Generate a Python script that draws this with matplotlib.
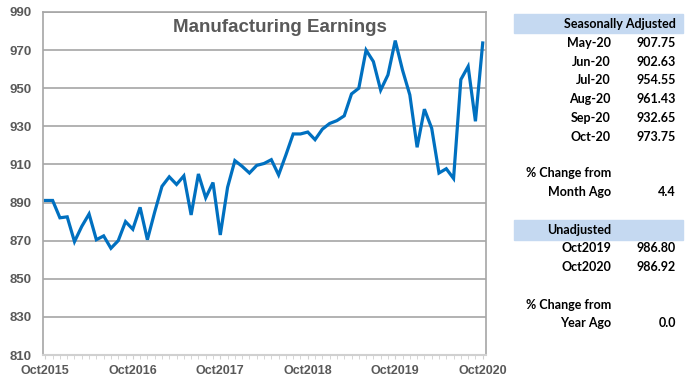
import matplotlib
matplotlib.use("Agg")
import matplotlib.pyplot as plt
from matplotlib.patches import Rectangle

# monthly earnings, Oct 2015 .. Oct 2020
earnings = [891.1, 891.1, 882.0, 882.5, 869.5, 877.5, 884.0, 870.5, 872.5, 866.0,
            870.0, 880.0, 876.0, 887.5, 870.5, 885.0, 898.5, 903.5, 899.5, 904.0,
            883.5, 905.0, 892.5, 900.5, 873.0, 898.0, 912.0, 909.0, 905.5, 909.5,
            910.5, 912.5, 904.5, 915.0, 926.0, 926.0, 927.0, 923.0, 928.5, 931.5,
            933.0, 935.5, 947.0, 950.0, 970.0, 964.0, 949.0, 957.0, 975.0, 959.5,
            946.5, 919.0, 939.0, 929.0, 905.5, 907.75, 902.63, 954.55, 961.43, 932.65,
            973.75]
xtick_pos = [0, 12, 24, 36, 48, 60]
xtick_labels = ['Oct2015', 'Oct2016', 'Oct2017', 'Oct2018', 'Oct2019', 'Oct2020']
yticks = list(range(810, 991, 20))

# side table
sa_months = ['May-20', 'Jun-20', 'Jul-20', 'Aug-20', 'Sep-20', 'Oct-20']
sa_values = ['907.75', '902.63', '954.55', '961.43', '932.65', '973.75']
month_change = '4.4'
ua_months = ['Oct2019', 'Oct2020']
ua_values = ['986.80', '986.92']
year_change = '0.0'

W, H = 688, 387
fig = plt.figure(figsize=(W / 100, H / 100), dpi=100)
ax = fig.add_axes([43 / W, (H - 355) / H, (486 - 43) / W, (355 - 12) / H])

ax.plot(range(len(earnings)), earnings, color='#0070C0', lw=2.3, solid_joinstyle='miter')

ax.set_ylim(810, 990)
ax.set_xlim(-0.32, 60.45)
ax.set_yticks(yticks)
ax.set_xticks(xtick_pos)
ax.set_xticks(range(len(earnings)), minor=True)
ax.set_xticklabels(xtick_labels)
ax.grid(axis='y', color='#a6a6a6', lw=1.2)
ax.set_axisbelow(True)

grey = '#595959'
ax.tick_params(axis='y', length=0, pad=8, labelsize=9.5, labelcolor=grey)
ax.tick_params(axis='x', which='both', direction='out', length=3, color='#d0d0d0',
               pad=4, labelsize=9, labelcolor=grey)
for lab in ax.get_xticklabels() + ax.get_yticklabels():
    lab.set_fontfamily('Liberation Sans')
    lab.set_fontweight('bold')

for side in ['left', 'right', 'top']:
    ax.spines[side].set_color('#a6a6a6')
    ax.spines[side].set_linewidth(1.2)
ax.spines['bottom'].set_color('#d0d0d0')
ax.spines['bottom'].set_linewidth(1.5)

ax.text(0.535, 0.955, 'Manufacturing Earnings', transform=ax.transAxes, ha='center', va='center',
        fontsize=13.5, fontweight='bold', color=grey, family='Liberation Sans')


# table drawn in pixel coordinates
def px(x, y):
    return x / W, 1 - y / H


def cell(x, y, s, ha='right'):
    fig.text(*px(x, y), s, ha=ha, va='center', fontsize=9, family='Lato',
             fontweight='bold', color='black')


def band(y0, y1):
    x0, yb = px(514, y1)
    fig.patches.append(Rectangle((x0, yb), (683 - 514) / W, (y1 - y0) / H,
                                 transform=fig.transFigure, color='#c5d9f1', zorder=0))


band(13.5, 33)
cell(676, 23.5, 'Seasonally Adjusted')
for i, (m, v) in enumerate(zip(sa_months, sa_values)):
    cell(611, 42.7 + i * 18.9, m)
    cell(676, 42.7 + i * 18.9, v)
cell(611, 173.3, '% Change from')
cell(611, 191.7, 'Month Ago')
cell(676, 191.7, month_change)

band(219.5, 240)
cell(611, 230, 'Unadjusted')
for i, (m, v) in enumerate(zip(ua_months, ua_values)):
    cell(611, 247.7 + i * 19, m)
    cell(676, 247.7 + i * 19, v)
cell(611, 305, '% Change from')
cell(611, 323.3, 'Year Ago')
cell(676, 323.3, year_change)

fig.savefig('out.png', dpi=100)
